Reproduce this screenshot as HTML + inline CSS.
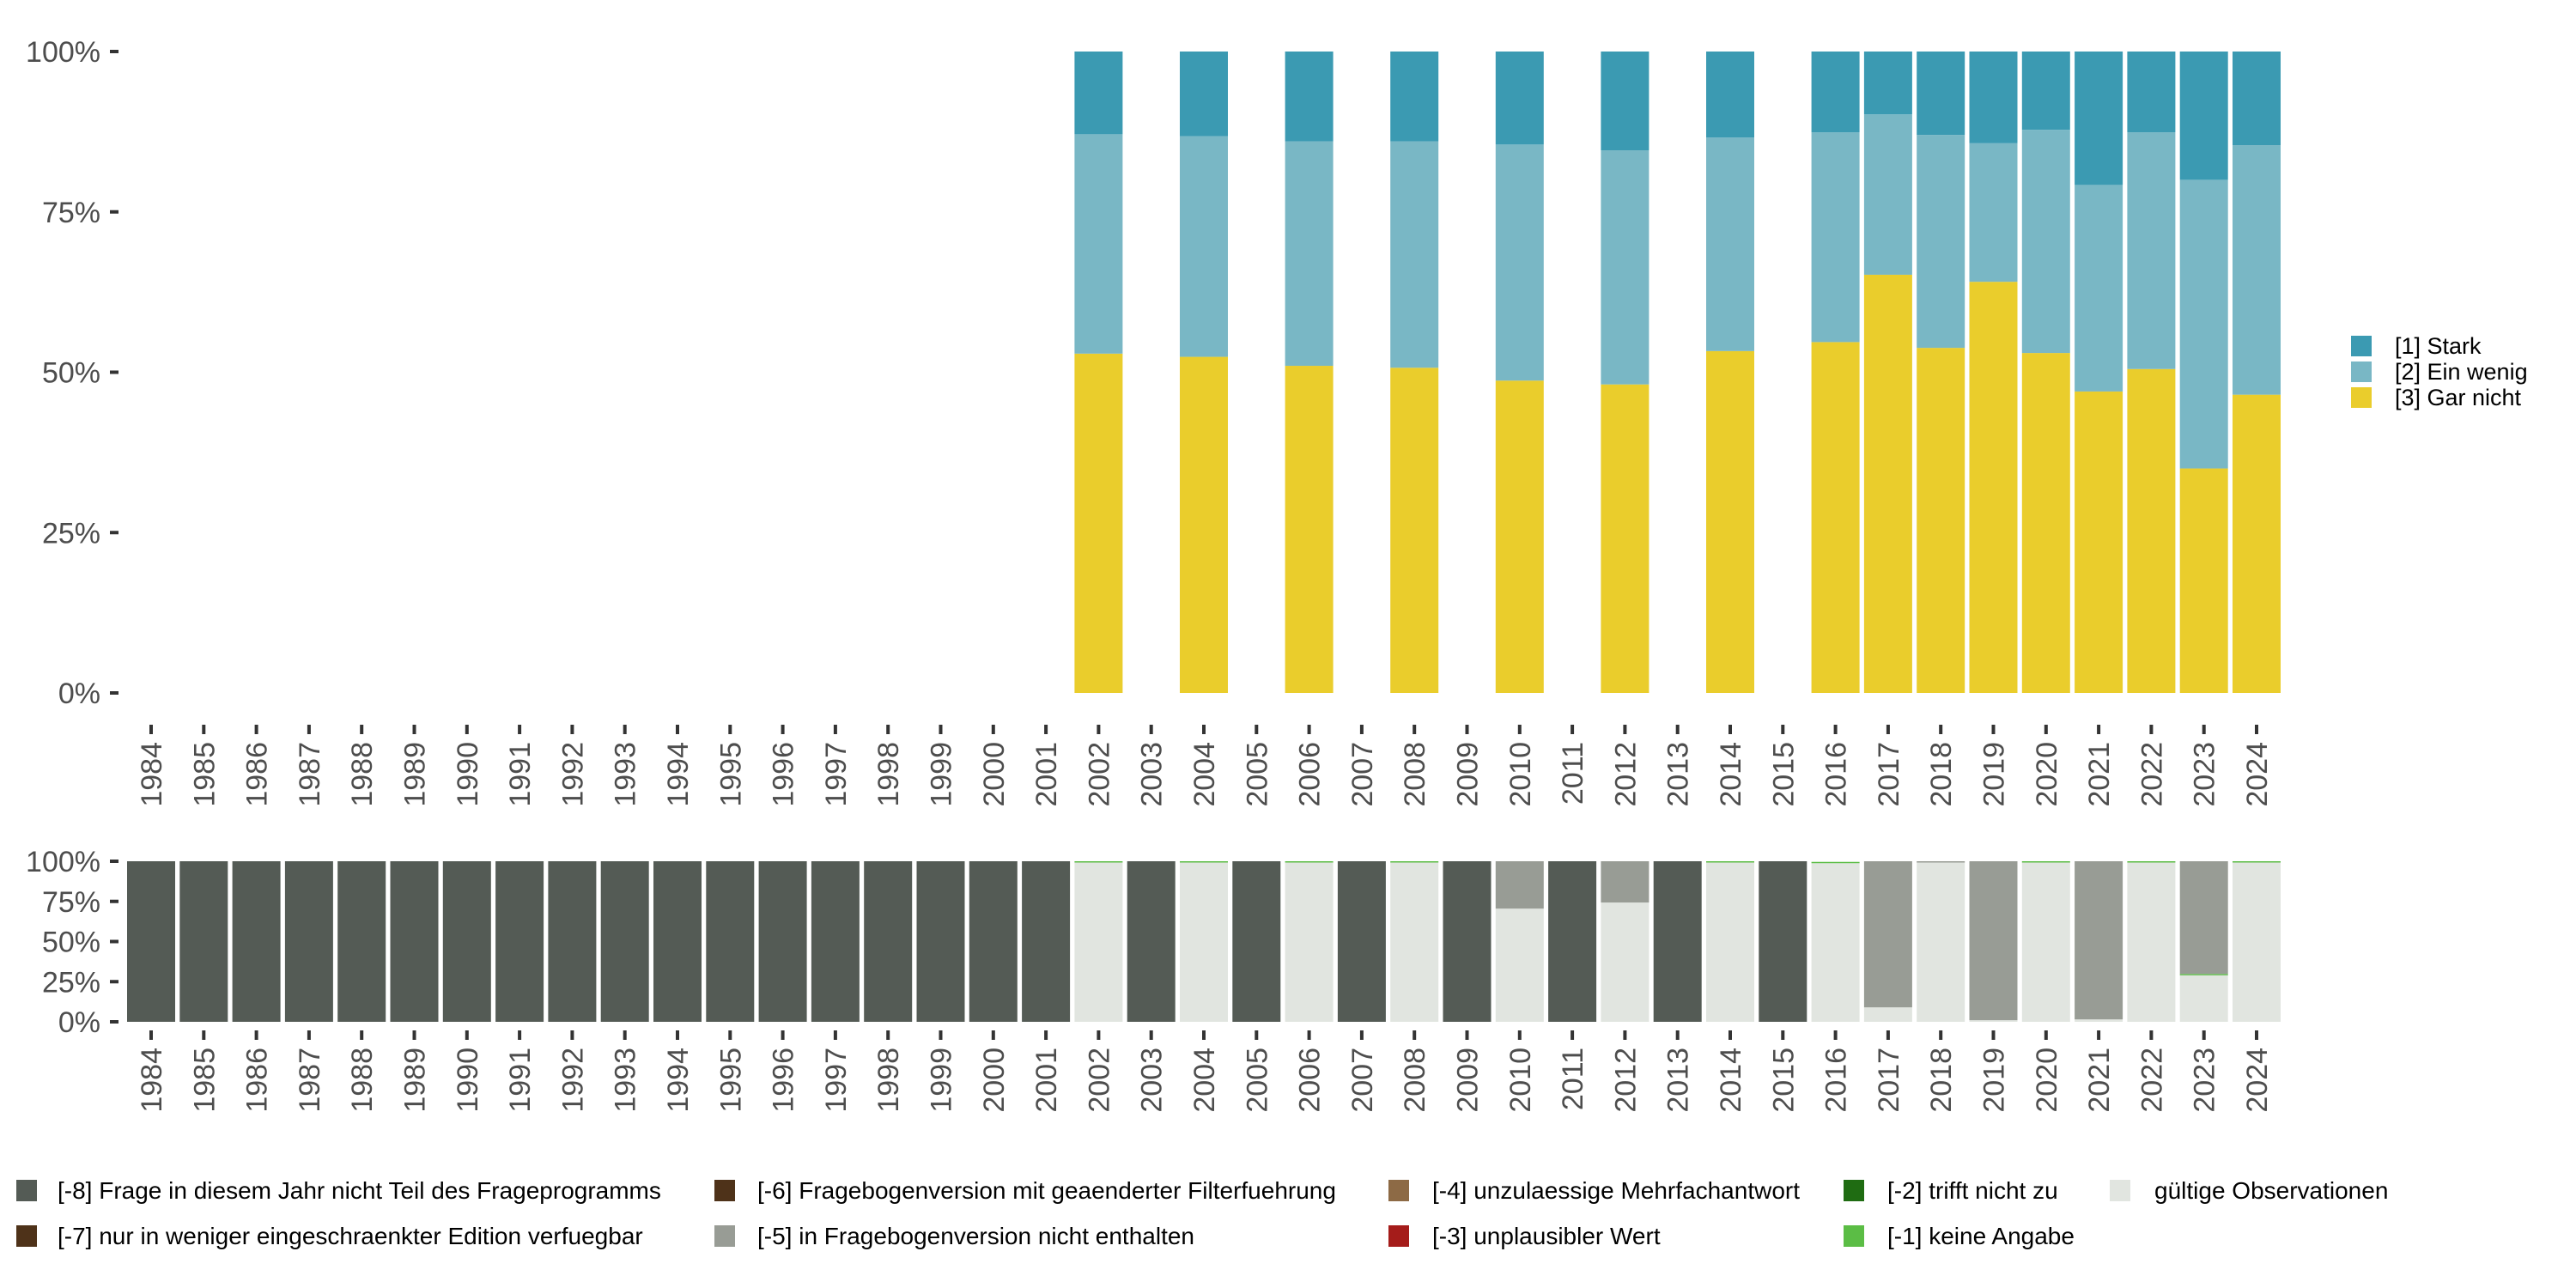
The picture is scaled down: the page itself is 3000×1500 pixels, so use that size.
<!DOCTYPE html>
<html><head><meta charset="utf-8"><style>
html,body{margin:0;padding:0;background:#fff;}
svg{display:block;font-family:"Liberation Sans","DejaVu Sans",sans-serif;}
</style></head><body>
<svg id="chart" width="3000" height="1500" viewBox="0 0 3000 1500" xmlns="http://www.w3.org/2000/svg">
<g id="top"></g>
<g id="bottom"></g>
<g id="legend1"></g>
<g id="legend2"></g>
</svg>
<script>
const years = [];
for (let y = 1984; y <= 2024; y++) years.push(y);
const topYears = [2002,2004,2006,2008,2010,2012,2014,2016,2017,2018,2019,2020,2021,2022,2023,2024];
const garNicht = [52.9,52.4,51.0,50.7,48.7,48.1,53.3,54.7,65.2,53.8,64.1,53.0,47.0,50.5,35.0,46.5];
const einWenig = [34.2,34.4,35.0,35.3,36.8,36.5,33.3,32.7,25.0,33.2,21.6,34.8,32.2,36.9,45.0,38.9];
const stark = [12.9,13.2,14.0,14.0,14.5,15.4,13.4,12.6,9.8,13.0,14.3,12.2,20.8,12.6,20.0,14.6];
const validYears = [2002,2004,2006,2008,2010,2012,2014,2016,2017,2018,2019,2020,2021,2022,2023,2024];
const validShare = [99.6,99.6,99.6,99.6,70.5,74.3,99.6,98.8,9.0,99.5,1.0,99.6,1.5,99.6,29.5,99.6];
const keineAngabe = [0.4,0.4,0.4,0.4,0,0,0.4,0.8,0,0,0,0.4,0,0.4,0.3,0.4];
const notInVersion = [0,0,0,0,29.5,25.7,0,0,91.0,0.5,99.0,0,98.5,0,70.2,0];
const yTicks = [0,25,50,75,100];
const tickLabels = ["0%","25%","50%","75%","100%"];
const NS="http://www.w3.org/2000/svg";
function mk(parent, tag, attrs, text){const e=document.createElementNS(NS,tag);for(const k in attrs)e.setAttribute(k,attrs[k]);if(text!==undefined)e.textContent=text;parent.appendChild(e);return e;}
const xScale = y => 176 + (y-1984)*61.3;
const BW = 56;
function panel(g, y0, y1, labTop){
  const ys = v => y0 - (v/100)*(y0-y1);
  yTicks.forEach((t,i)=>{
    const tl=mk(g,'text',{x:117,y:ys(t)+12,'text-anchor':'end','font-size':34,fill:'#4d4d4d'},tickLabels[i]);
    
    
    const tk=mk(g,'line',{x1:128,x2:138,y1:ys(t),y2:ys(t),stroke:'#333',"stroke-width":4});
    
    
  });
  years.forEach(yr=>{
    const x=xScale(yr);
    const tk=mk(g,'line',{x1:x,x2:x,y1:labTop-20,y2:labTop-9,stroke:'#333',"stroke-width":4});
    
    
    const t=mk(g,'text',{x:0,y:0,'text-anchor':'end','font-size':34,fill:'#4d4d4d',transform:`translate(${x+12},${labTop}) rotate(-90)`},String(yr));
    
    
  });
  return ys;
}
const gt=document.getElementById('top');
const ysT = panel(gt, 807, 60, 864);
topYears.forEach((yr,i)=>{
  const x=xScale(yr)-BW/2;
  const segs=[[garNicht[i],'#EACD2C','bar-gar-nicht'],[einWenig[i],'#79B7C5','bar-ein-wenig'],[stark[i],'#3B9AB2','bar-stark']];
  let acc=0;
  segs.forEach(s=>{
    const r=mk(gt,'rect',{x:x,width:BW,y:ysT(acc+s[0]),height:ysT(acc)-ysT(acc+s[0]),fill:s[1]});
    
    
    acc+=s[0];
  });
});
const gb=document.getElementById('bottom');
const ysB = panel(gb, 1190, 1003, 1220);
years.forEach(yr=>{
  const x=xScale(yr)-BW/2;
  const i=validYears.indexOf(yr);
  if(i<0){
    const r=mk(gb,'rect',{x:x,width:BW,y:ysB(100),height:ysB(0)-ysB(100),fill:'#545B55'});
    
    
    return;
  }
  const segs=[[validShare[i],'#E1E5E0','bar-valid'],[keineAngabe[i],'#5BBD45','bar-keine-angabe'],[notInVersion[i],'#989C95','bar-not-in-version']];
  let acc=0;
  segs.forEach(s=>{
    if(s[0]<=0) return;
    const r=mk(gb,'rect',{x:x,width:BW,y:ysB(acc+s[0]),height:Math.max(1.5,ysB(acc)-ysB(acc+s[0])),fill:s[1]});
    
    
    acc+=s[0];
  });
});
const l1=document.getElementById('legend1');
[['[1] Stark','#3B9AB2'],['[2] Ein wenig','#79B7C5'],['[3] Gar nicht','#EACD2C']].forEach((d,i)=>{
  const r=mk(l1,'rect',{x:2738,y:391+i*30,width:24,height:24,fill:d[1]});
  
  
  const t=mk(l1,'text',{x:2789,y:412+i*30,'font-size':27,fill:'#000'},d[0]);
  
  
});
const l2=document.getElementById('legend2');
const leg2=[
 [19,67,0,'#545B55','[-8] Frage in diesem Jahr nicht Teil des Frageprogramms'],
 [19,67,1,'#4E3219','[-7] nur in weniger eingeschraenkter Edition verfuegbar'],
 [832,882,0,'#4E3219','[-6] Fragebogenversion mit geaenderter Filterfuehrung'],
 [832,882,1,'#989C95','[-5] in Fragebogenversion nicht enthalten'],
 [1617,1668,0,'#8D6A45','[-4] unzulaessige Mehrfachantwort'],
 [1617,1668,1,'#A51C1A','[-3] unplausibler Wert'],
 [2147,2198,0,'#1F6C12','[-2] trifft nicht zu'],
 [2147,2198,1,'#5BBD45','[-1] keine Angabe'],
 [2457,2509,0,'#E1E5E0','gültige Observationen']];
leg2.forEach(d=>{
  const yy = d[2]===0?1374:1427;
  const r=mk(l2,'rect',{x:d[0],y:yy,width:24,height:25,fill:d[3]});
  
  
  const t=mk(l2,'text',{x:d[1],y:yy+22,'font-size':28,fill:'#000'},d[4]);
  
  
});
</script>
</body></html>
